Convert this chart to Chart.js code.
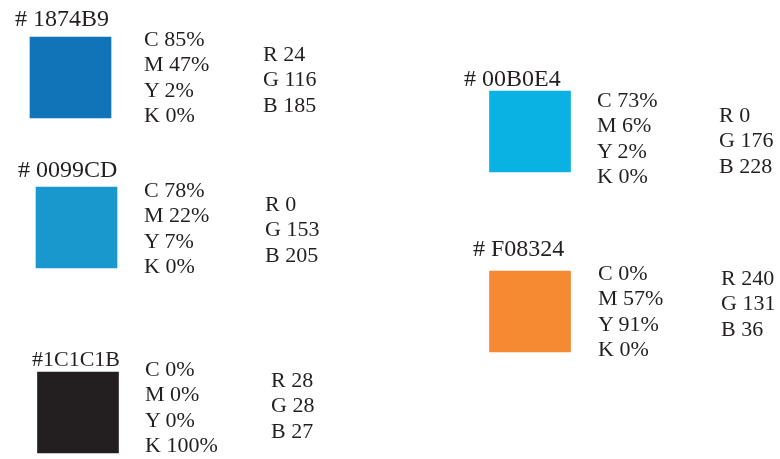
<!DOCTYPE html>
<html>
<head>
<meta charset="utf-8">
<script src="https://cdn.jsdelivr.net/npm/chart.js@4/dist/chart.umd.min.js"></script>
<style>
  html, body { margin: 0; padding: 0; background: #ffffff; }
  #wrap { position: relative; width: 780px; height: 459px; overflow: hidden; }
  #c { position: absolute; left: 0; top: 0; }
  .t { position: absolute; font-family: "Liberation Serif", "Times New Roman", Times, serif; color: #231f20; white-space: pre; line-height: 25px; }
</style>
</head>
<body>
<div id="wrap"><canvas id="c" width="780" height="459"></canvas></div>
<script>
// ---- data ----
const hexLabels = ['# 1874B9', '# 0099CD', '#1C1C1B', '# 00B0E4', '# F08324'];
const cyan    = [85, 78, 0, 73, 0];
const magenta = [47, 22, 0, 6, 57];
const yellow  = [2, 7, 0, 2, 91];
const black   = [0, 0, 100, 0, 0];
const red     = [24, 0, 28, 0, 240];
const green   = [116, 153, 28, 176, 131];
const blue    = [185, 205, 27, 228, 36];

// ---- layout / style (not data) ----
const swatchFill = ['#1274b8', '#1898cc', '#231f20', '#0ab1e3', '#f58a33'];
const swatchX = [70.5, 76.5, 78, 530, 530];                                   // centre
const swatchY = [[37, 118], [187, 268], [372, 453], [91, 172], [271, 352]];   // top, bottom
const hexPos  = [[15, 27, 24], [18, 178, 24], [32, 366, 22], [464, 87, 24], [473, 257, 24]]; // left, baseline, font size
const cmykPos = [[144, 46], [144, 197], [145, 376], [597, 107], [598, 280]];               // left, first baseline
const rgbPos  = [[263, 61], [265, 211], [271, 387], [719, 122], [721, 285]];
const swatchSide = 81;
const lineStep = 25.3;

const chart = new Chart(document.getElementById('c'), {
  type: 'bar',
  data: {
    datasets: [{
      data: swatchX.map((x, i) => ({ x: x, y: swatchY[i] })),
      backgroundColor: swatchFill,
      borderWidth: 0,
      barThickness: swatchSide,
      borderSkipped: false
    }]
  },
  options: {
    responsive: false,
    animation: false,
    events: [],
    layout: { padding: 0 },
    plugins: { legend: { display: false }, tooltip: { enabled: false } },
    scales: {
      x: { type: 'linear', min: 0, max: 780, offset: false, display: false },
      y: { type: 'linear', min: 0, max: 459, reverse: true, offset: false, display: false }
    }
  }
});

const wrap = document.getElementById('wrap');
const sx = chart.scales.x, sy = chart.scales.y;
function addText(txt, x, baseline, size) {
  const d = document.createElement('div');
  d.className = 't';
  d.style.fontSize = size + 'px';
  d.textContent = txt;
  const lead = 25;
  const baseOff = (lead - 1.107 * size) / 2 + 0.891 * size;
  d.style.left = sx.getPixelForValue(x) + 'px';
  d.style.top = (sy.getPixelForValue(baseline) - baseOff) + 'px';
  wrap.appendChild(d);
}
for (let i = 0; i < hexLabels.length; i++) {
  addText(hexLabels[i], hexPos[i][0], hexPos[i][1], hexPos[i][2]);
  const cm = ['C ' + cyan[i] + '%', 'M ' + magenta[i] + '%', 'Y ' + yellow[i] + '%', 'K ' + black[i] + '%'];
  cm.forEach((s, k) => addText(s, cmykPos[i][0], cmykPos[i][1] + k * lineStep, 22));
  const rg = ['R ' + red[i], 'G ' + green[i], 'B ' + blue[i]];
  rg.forEach((s, k) => addText(s, rgbPos[i][0], rgbPos[i][1] + k * lineStep, 22));
}
</script>
</body>
</html>
